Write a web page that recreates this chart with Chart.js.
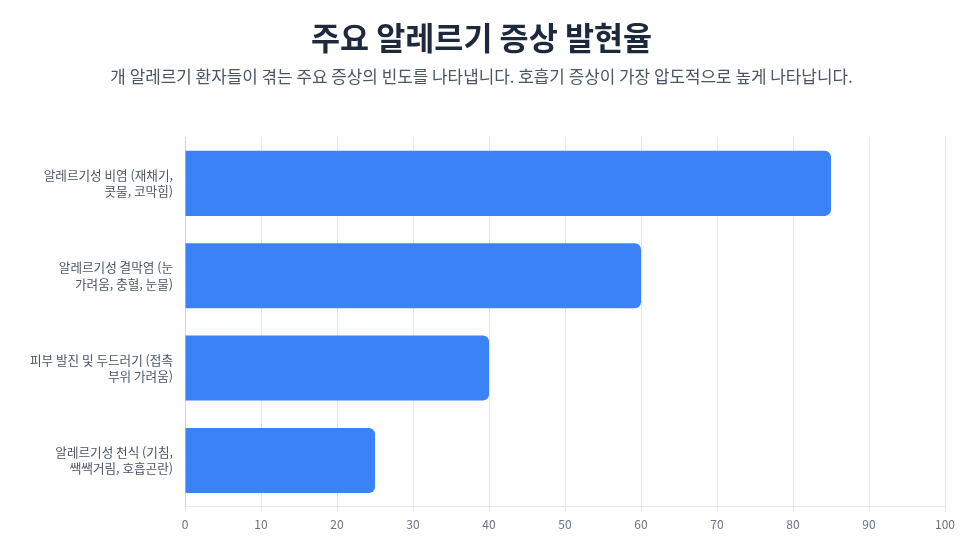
<!DOCTYPE html>
<html lang="ko">
<head>
<meta charset="utf-8">
<script src="https://cdn.jsdelivr.net/npm/chart.js@4.4.1/dist/chart.umd.min.js"></script>
<style>
  html, body { margin: 0; padding: 0; background: #ffffff; }
  #wrap { width: 975px; height: 551px; position: relative; }
</style>
</head>
<body>
<div id="wrap"><canvas id="c"></canvas></div>
<script>
const titleText = '주요 알레르기 증상 발현율';
const subtitleText = '개 알레르기 환자들이 겪는 주요 증상의 빈도를 나타냅니다. 호흡기 증상이 가장 압도적으로 높게 나타납니다.';
const categories = [
  ['알레르기성 비염 (재채기,', '콧물, 코막힘)'],
  ['알레르기성 결막염 (눈', '가려움, 충혈, 눈물)'],
  ['피부 발진 및 두드러기 (접촉', '부위 가려움)'],
  ['알레르기성 천식 (기침,', '쌕쌕거림, 호흡곤란)']
];
const values = [85, 60, 40, 25];
const xMin = 0, xMax = 100, xStep = 10;

const FONT = "'Noto Sans CJK KR', 'Noto Sans', sans-serif";

new Chart(document.getElementById('c'), {
  type: 'bar',
  data: {
    labels: categories,
    datasets: [{
      label: '발현율 (%)',
      data: values,
      backgroundColor: '#3b82f6',
      borderColor: '#3b82f6',
      borderWidth: 0,
      borderRadius: 6,
      borderSkipped: 'start',
      barPercentage: 0.88,
      categoryPercentage: 0.8
    }]
  },
  options: {
    indexAxis: 'y',
    responsive: true,
    maintainAspectRatio: false,
    animation: false,
    layout: { padding: { left: 18, right: 30, top: 9, bottom: 14 } },
    plugins: {
      legend: { display: false },
      tooltip: { enabled: false },
      title: {
        display: true,
        text: titleText,
        color: '#1e293b',
        font: { family: FONT, size: 31.6, weight: 'bold' },
        padding: { top: 10, bottom: 10 }
      },
      subtitle: {
        display: true,
        text: subtitleText,
        color: '#4b5563',
        font: { family: FONT, size: 16.9 },
        padding: { top: 0, bottom: 50 }
      }
    },
    scales: {
      x: {
        min: xMin,
        max: xMax,
        ticks: {
          stepSize: xStep,
          color: '#6b7280',
          font: { family: FONT, size: 12 },
          padding: 5
        },
        grid: { color: '#e5e7eb', drawTicks: true, tickLength: 6 },
        border: { color: '#e5e7eb' }
      },
      y: {
        afterFit: function (scale) { scale.width = 167; },
        ticks: {
          color: '#4b5563',
          font: { family: FONT, size: 12.6, lineHeight: 1.3 },
          padding: 4
        },
        grid: { display: false },
        border: { color: '#d1d5db' }
      }
    }
  }
});
</script>
</body>
</html>
